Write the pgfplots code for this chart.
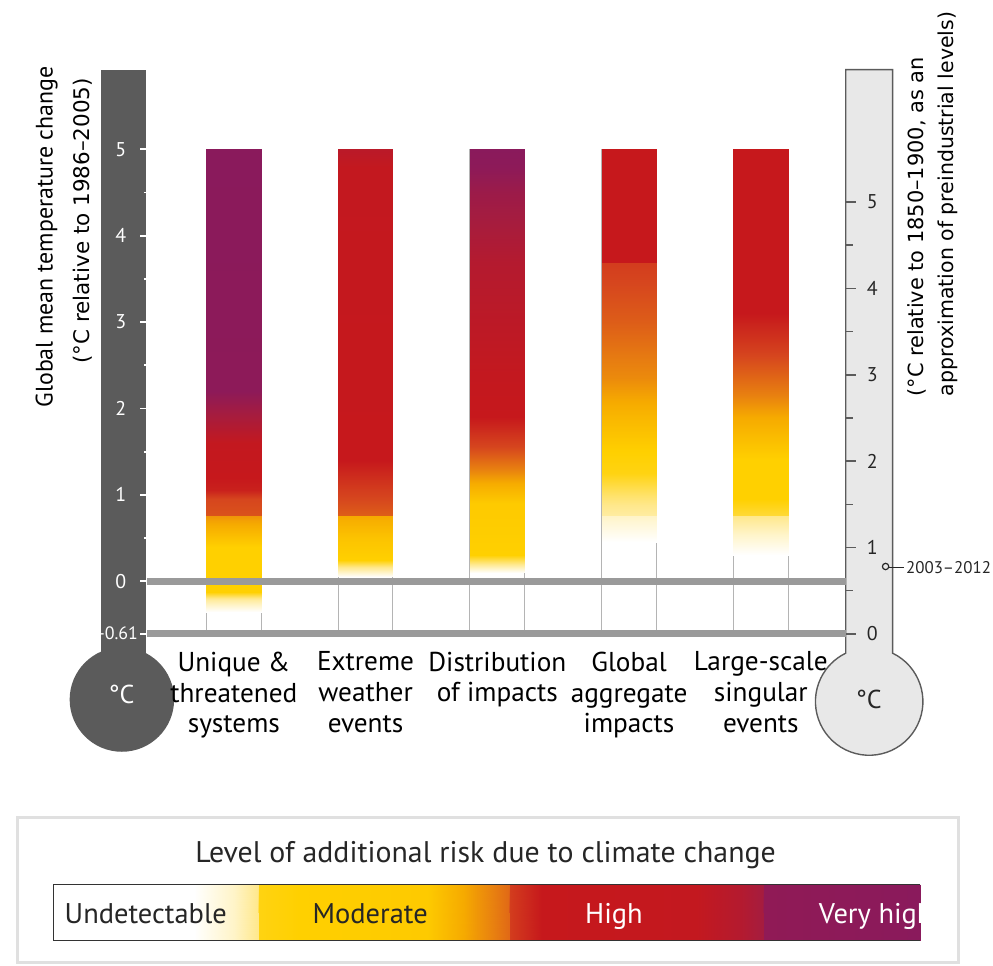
\documentclass[border=0pt]{standalone}
\usepackage{pgfplots}
\pgfplotsset{compat=1.18}
\usepackage{pgfplotstable}
\usepackage{fontspec}
\setmainfont{PT Sans}
\newfontfamily\verd{DejaVu Sans}

\definecolor{stemdark}{RGB}{91,91,91}
\definecolor{stemlight}{RGB}{232,232,232}
\definecolor{zeroline}{RGB}{154,154,154}
\definecolor{barline}{RGB}{180,180,180}

\pgfplotsset{
  colormap={risk}{
    rgb255(0pt)=(255,255,255)
    rgb255(30pt)=(255,244,200)
    rgb255(60pt)=(255,232,140)
    rgb255(100pt)=(255,208,0)
    rgb255(130pt)=(246,170,0)
    rgb255(150pt)=(232,128,16)
    rgb255(175pt)=(214,70,30)
    rgb255(200pt)=(198,24,28)
    rgb255(250pt)=(168,28,60)
    rgb255(300pt)=(138,26,92)
  },
}

% risk level (0 undetectable, 1 moderate, 2 high, 3 very high) against temperature
\pgfplotstableread[row sep=\\]{
s y c \\
-1 -0.36 0 \\ 1 -0.36 0 \\
-1 -0.22 0.5 \\ 1 -0.22 0.5 \\
-1 -0.12 1.0 \\ 1 -0.12 1.0 \\
-1 0.40 1.0 \\ 1 0.40 1.0 \\
-1 0.76 1.4 \\ 1 0.76 1.4 \\
-1 0.77 1.7 \\ 1 0.77 1.7 \\
-1 0.95 1.75 \\ 1 0.95 1.75 \\
-1 1.05 1.95 \\ 1 1.05 1.95 \\
-1 1.20 2.0 \\ 1 1.20 2.0 \\
-1 1.60 2.05 \\ 1 1.60 2.05 \\
-1 1.90 2.5 \\ 1 1.90 2.5 \\
-1 2.20 2.95 \\ 1 2.20 2.95 \\
-1 5.00 3.0 \\ 1 5.00 3.0 \\
}\emberA
\pgfplotstableread[row sep=\\]{
s y c \\
-1 0.05 0 \\ 1 0.05 0 \\
-1 0.14 0.5 \\ 1 0.14 0.5 \\
-1 0.24 1.0 \\ 1 0.24 1.0 \\
-1 0.50 1.1 \\ 1 0.50 1.1 \\
-1 0.76 1.3 \\ 1 0.76 1.3 \\
-1 0.77 1.65 \\ 1 0.77 1.65 \\
-1 1.05 1.8 \\ 1 1.05 1.8 \\
-1 1.40 2.0 \\ 1 1.40 2.0 \\
-1 4.80 2.05 \\ 1 4.80 2.05 \\
-1 5.00 2.2 \\ 1 5.00 2.2 \\
}\emberB
\pgfplotstableread[row sep=\\]{
s y c \\
-1 0.10 0 \\ 1 0.10 0 \\
-1 0.20 0.6 \\ 1 0.20 0.6 \\
-1 0.30 1.0 \\ 1 0.30 1.0 \\
-1 0.90 1.05 \\ 1 0.90 1.05 \\
-1 1.10 1.25 \\ 1 1.10 1.25 \\
-1 1.30 1.5 \\ 1 1.30 1.5 \\
-1 1.55 1.75 \\ 1 1.55 1.75 \\
-1 1.90 2.0 \\ 1 1.90 2.0 \\
-1 2.40 2.05 \\ 1 2.40 2.05 \\
-1 3.70 2.3 \\ 1 3.70 2.3 \\
-1 4.50 2.7 \\ 1 4.50 2.7 \\
-1 4.80 2.95 \\ 1 4.80 2.95 \\
-1 5.00 3.0 \\ 1 5.00 3.0 \\
}\emberC
\pgfplotstableread[row sep=\\]{
s y c \\
-1 0.45 0 \\ 1 0.45 0 \\
-1 0.76 0.3 \\ 1 0.76 0.3 \\
-1 0.77 0.5 \\ 1 0.77 0.5 \\
-1 1.00 0.7 \\ 1 1.00 0.7 \\
-1 1.25 0.95 \\ 1 1.25 0.95 \\
-1 1.50 1.0 \\ 1 1.50 1.0 \\
-1 1.90 1.2 \\ 1 1.90 1.2 \\
-1 2.35 1.45 \\ 1 2.35 1.45 \\
-1 3.00 1.65 \\ 1 3.00 1.65 \\
-1 3.69 1.8 \\ 1 3.69 1.8 \\
-1 3.70 2.0 \\ 1 3.70 2.0 \\
-1 5.00 2.0 \\ 1 5.00 2.0 \\
}\emberD
\pgfplotstableread[row sep=\\]{
s y c \\
-1 0.30 0 \\ 1 0.30 0 \\
-1 0.55 0.3 \\ 1 0.55 0.3 \\
-1 0.76 0.6 \\ 1 0.76 0.6 \\
-1 0.77 0.85 \\ 1 0.77 0.85 \\
-1 0.95 1.0 \\ 1 0.95 1.0 \\
-1 1.40 1.0 \\ 1 1.40 1.0 \\
-1 1.90 1.3 \\ 1 1.90 1.3 \\
-1 2.15 1.5 \\ 1 2.15 1.5 \\
-1 2.70 1.8 \\ 1 2.70 1.8 \\
-1 3.10 2.0 \\ 1 3.10 2.0 \\
-1 5.00 2.0 \\ 1 5.00 2.0 \\
}\emberE

% legend strip: position (px) and risk level
\pgfplotstableread[row sep=\\]{
x y c \\
54 0 0 \\ 54 1 0 \\
195 0 0 \\ 195 1 0 \\
235 0 0.3 \\ 235 1 0.3 \\
259 0 0.6 \\ 259 1 0.6 \\
260 0 0.95 \\ 260 1 0.95 \\
300 0 1.0 \\ 300 1 1.0 \\
430 0 1.05 \\ 430 1 1.05 \\
480 0 1.4 \\ 480 1 1.4 \\
512 0 1.6 \\ 512 1 1.6 \\
513 0 1.8 \\ 513 1 1.8 \\
545 0 2.0 \\ 545 1 2.0 \\
700 0 2.05 \\ 700 1 2.05 \\
745 0 2.3 \\ 745 1 2.3 \\
767 0 2.55 \\ 767 1 2.55 \\
768 0 2.9 \\ 768 1 2.9 \\
925 0 3.0 \\ 925 1 3.0 \\
}\legendtab

\newcommand{\hw}{0.2077}

\begin{document}
\begin{tikzpicture}
% pixel grid of the reference: 1px = 0.5pt, y downwards
\begin{scope}[x=0.5pt,y=-0.5pt]
  \useasboundingbox (0,0) rectangle (993,970);
  % legend frame
  \draw[black!12, line width=1.5pt] (18,822) rectangle (963,967);
  % left thermometer
  \fill[stemdark] (102,70) rectangle (147,680);
  \fill[stemdark] (122.5,703) circle[radius=52.5];
  \node[white, font=\fontsize{13}{15}\selectfont] at (122,698) {°C};
  % right thermometer
  \filldraw[fill=stemlight, draw=stemdark, line width=0.7pt]
    (850,70) -- (897,70) -- (897,656.4)
    arc[start angle=-64.2, end angle=244.2, radius=54] -- cycle;
  \node[black!85, font=\fontsize{13}{15}\selectfont] at (873,703) {°C};
  % axis titles
  \node[rotate=90, font=\fontsize{12}{14}\selectfont] at (47,238) {Global mean temperature change};
  \node[rotate=90, font=\verd\fontsize{10.8}{12}\selectfont] at (83,222) {(°C relative to 1986–2005)};
  \node[rotate=90, font=\verd\fontsize{10.5}{12}\selectfont] at (921,228) {(°C relative to 1850–1900, as an};
  \node[rotate=90, font=\verd\fontsize{10.3}{12}\selectfont] at (953,205) {approximation of preindustrial levels)};
\end{scope}

\begin{axis}[
  at={(75pt,-318.5pt)}, anchor=south west,
  scale only axis, width=350pt, height=243.45pt,
  xmin=0.358, xmax=5.645, ymin=-0.61, ymax=5,
  clip=false,
  axis x line*=bottom, axis y line*=left,
  axis line style={draw=none},
  colormap name=risk, point meta min=0, point meta max=3,
  xtick={1,2,3,4,5},
  xticklabels={{Unique \&\\threatened\\systems},{Extreme\\weather\\events},{Distribution\\of impacts},{Global\\aggregate\\impacts},{Large-scale\\singular\\events}},
  x tick style={draw=none},
  xticklabel style={align=center, font=\fontsize{13.7}{15.5}\selectfont, anchor=north, yshift=-1pt},
  ytick={-0.61,0,1,2,3,4,5},
  yticklabels={{},0,1,2,3,4,5},
  minor ytick={0.5,1.5,2.5,3.5,4.5},
  tick align=outside,
  major tick length=4.5pt, minor tick length=2.5pt,
  y tick style={white, line width=0.9pt},
  yticklabel style={white, font=\fontsize{10}{12}\selectfont, xshift=-3.5pt},
  /pgf/number format/assume math mode=true,
]
\pgfplotsinvokeforeach{1,2,3,4,5}{
  \addplot[barline, line width=0.5pt] coordinates {(#1-\hw,-0.61) (#1-\hw,5)};
  \addplot[barline, line width=0.5pt] coordinates {(#1+\hw,-0.61) (#1+\hw,5)};
}
\addplot[surf, shader=interp, mesh/cols=2, point meta=explicit] table[x expr=1+\hw*\thisrow{s}, y=y, meta=c]{\emberA};
\addplot[surf, shader=interp, mesh/cols=2, point meta=explicit] table[x expr=2+\hw*\thisrow{s}, y=y, meta=c]{\emberB};
\addplot[surf, shader=interp, mesh/cols=2, point meta=explicit] table[x expr=3+\hw*\thisrow{s}, y=y, meta=c]{\emberC};
\addplot[surf, shader=interp, mesh/cols=2, point meta=explicit] table[x expr=4+\hw*\thisrow{s}, y=y, meta=c]{\emberD};
\addplot[surf, shader=interp, mesh/cols=2, point meta=explicit] table[x expr=5+\hw*\thisrow{s}, y=y, meta=c]{\emberE};
\addplot[zeroline, line width=3.5pt] coordinates {(0.343,0) (5.645,0)};
\addplot[zeroline, line width=3.5pt] coordinates {(0.343,-0.61) (5.645,-0.61)};
\end{axis}

\begin{axis}[
  at={(75pt,-318.5pt)}, anchor=south west,
  scale only axis, width=350pt, height=243.45pt,
  xmin=0.358, xmax=5.645, ymin=0, ymax=5.61,
  clip=false,
  hide x axis, axis y line*=right,
  axis line style={draw=none},
  ytick={0,1,2,3,4,5}, minor ytick={0.5,1.5,2.5,3.5,4.5},
  tick align=outside,
  major tick length=5pt, minor tick length=3.5pt,
  y tick style={stemdark, line width=0.8pt},
  yticklabel style={black!85, font=\fontsize{10}{12}\selectfont, xshift=2pt},
  /pgf/number format/assume math mode=true,
]
% observed warming 2003-2012
\addplot[only marks, mark=o, mark size=1.6pt, black!85, line width=0.6pt] coordinates {(5.947,0.78)};
\end{axis}

\begin{axis}[
  at={(27pt,-472.5pt)}, anchor=south west,
  scale only axis, width=435.5pt, height=28pt,
  xmin=54, xmax=925, ymin=0, ymax=1,
  hide axis,
  colormap name=risk, point meta min=0, point meta max=3,
]
\addplot[surf, shader=interp, mesh/ordering=y varies, mesh/rows=2, point meta=explicit] table[x=x, y=y, meta=c]{\legendtab};
\end{axis}

\begin{scope}[x=0.5pt,y=-0.5pt]
  \node[anchor=east, white, inner sep=0pt, font=\fontsize{9}{10}\selectfont] at (139,636) {-0.61};
  \draw[black!80, line width=0.6pt] (925,889) -- (54,889) -- (54,945) -- (925,945);
  \node[font=\fontsize{15}{17}\selectfont, black!85] at (488,859) {Level of additional risk due to climate change};
  \node[anchor=base west, font=\fontsize{14.3}{16}\selectfont, black!85] at (58,928) {Undetectable};
  \node[anchor=base, font=\fontsize{14.3}{16}\selectfont, black!85] at (372,928) {Moderate};
  \node[anchor=base, font=\fontsize{14.3}{16}\selectfont, white] at (617,928) {High};
  \node[anchor=base west, font=\fontsize{14.3}{16}\selectfont, white] at (816,928) {Very high};
  \draw[black!85, line width=0.6pt] (893,570) -- (908,570)
    node[right, inner sep=1pt, font=\fontsize{8.5}{10}\selectfont] {2003–2012};
\end{scope}
\end{tikzpicture}
\end{document}
